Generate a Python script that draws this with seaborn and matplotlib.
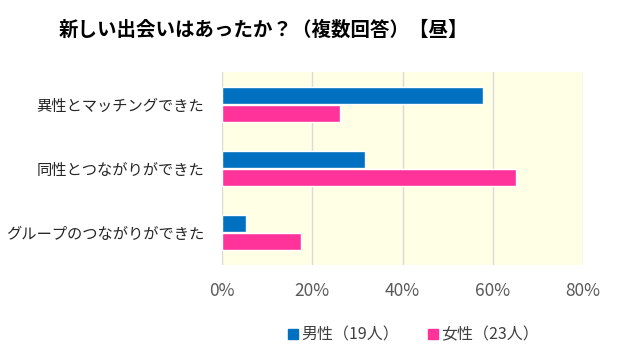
import matplotlib
matplotlib.use("Agg")
import matplotlib.pyplot as plt
import seaborn as sns
import pandas as pd
from matplotlib.lines import Line2D
from matplotlib.ticker import FuncFormatter

categories = ["異性とマッチングできた", "同性とつながりができた", "グループのつながりができた"]
series_names = ["男性（19人）", "女性（23人）"]
male_values = [57.9, 31.6, 5.3]
female_values = [26.1, 65.2, 17.4]
x_ticks = [0, 20, 40, 60, 80]
title = "新しい出会いはあったか？（複数回答）【昼】"
colors = ["#0070C0", "#FF3399"]

df = pd.DataFrame({
    "category": categories * 2,
    "value": male_values + female_values,
    "series": [series_names[0]] * 3 + [series_names[1]] * 3,
})

sns.set_theme(style="white")
plt.rcParams['font.family'] = ['Noto Sans CJK JP', 'DejaVu Sans']

fig = plt.figure(figsize=(6.17, 3.49), dpi=100)
ax = fig.add_axes([222/617, 1-265/349, (583-222)/617, (265-72)/349])
ax.set_facecolor("#FFFFE6")

sns.barplot(data=df, y="category", x="value", hue="series", order=categories,
            hue_order=series_names, palette=colors, width=0.56, gap=0.04,
            orient="h", ax=ax, legend=False, saturation=1)

ax.set_xlim(0, 80)
ax.set_xticks(x_ticks)
ax.xaxis.set_major_formatter(FuncFormatter(lambda v, p: f"{int(v)}%"))
ax.grid(axis="x", color="#D9D9D9", linewidth=1)
ax.set_axisbelow(True)
for s in ax.spines.values():
    s.set_visible(False)
ax.set_xlabel("")
ax.set_ylabel("")
ax.tick_params(axis="x", length=0, pad=12, labelsize=12.5, labelcolor="#595959")
ax.tick_params(axis="y", length=0, pad=13, labelsize=11, labelcolor="#262626")

fig.text(263/617, 1-30/349, title, ha="center", va="center", fontsize=14,
         fontweight="bold", color="#000000")

handles = [Line2D([0], [0], marker="s", linestyle="none", markersize=7,
                  markerfacecolor=c, markeredgecolor=c) for c in colors]
fig.legend(handles, series_names, loc="center", bbox_to_anchor=(412/617, 1-335/349),
           ncol=2, frameon=False, fontsize=11.5, labelcolor="#404040",
           handletextpad=0.05, columnspacing=1.6, handlelength=1.0)

fig.savefig("out.png", dpi=100)
